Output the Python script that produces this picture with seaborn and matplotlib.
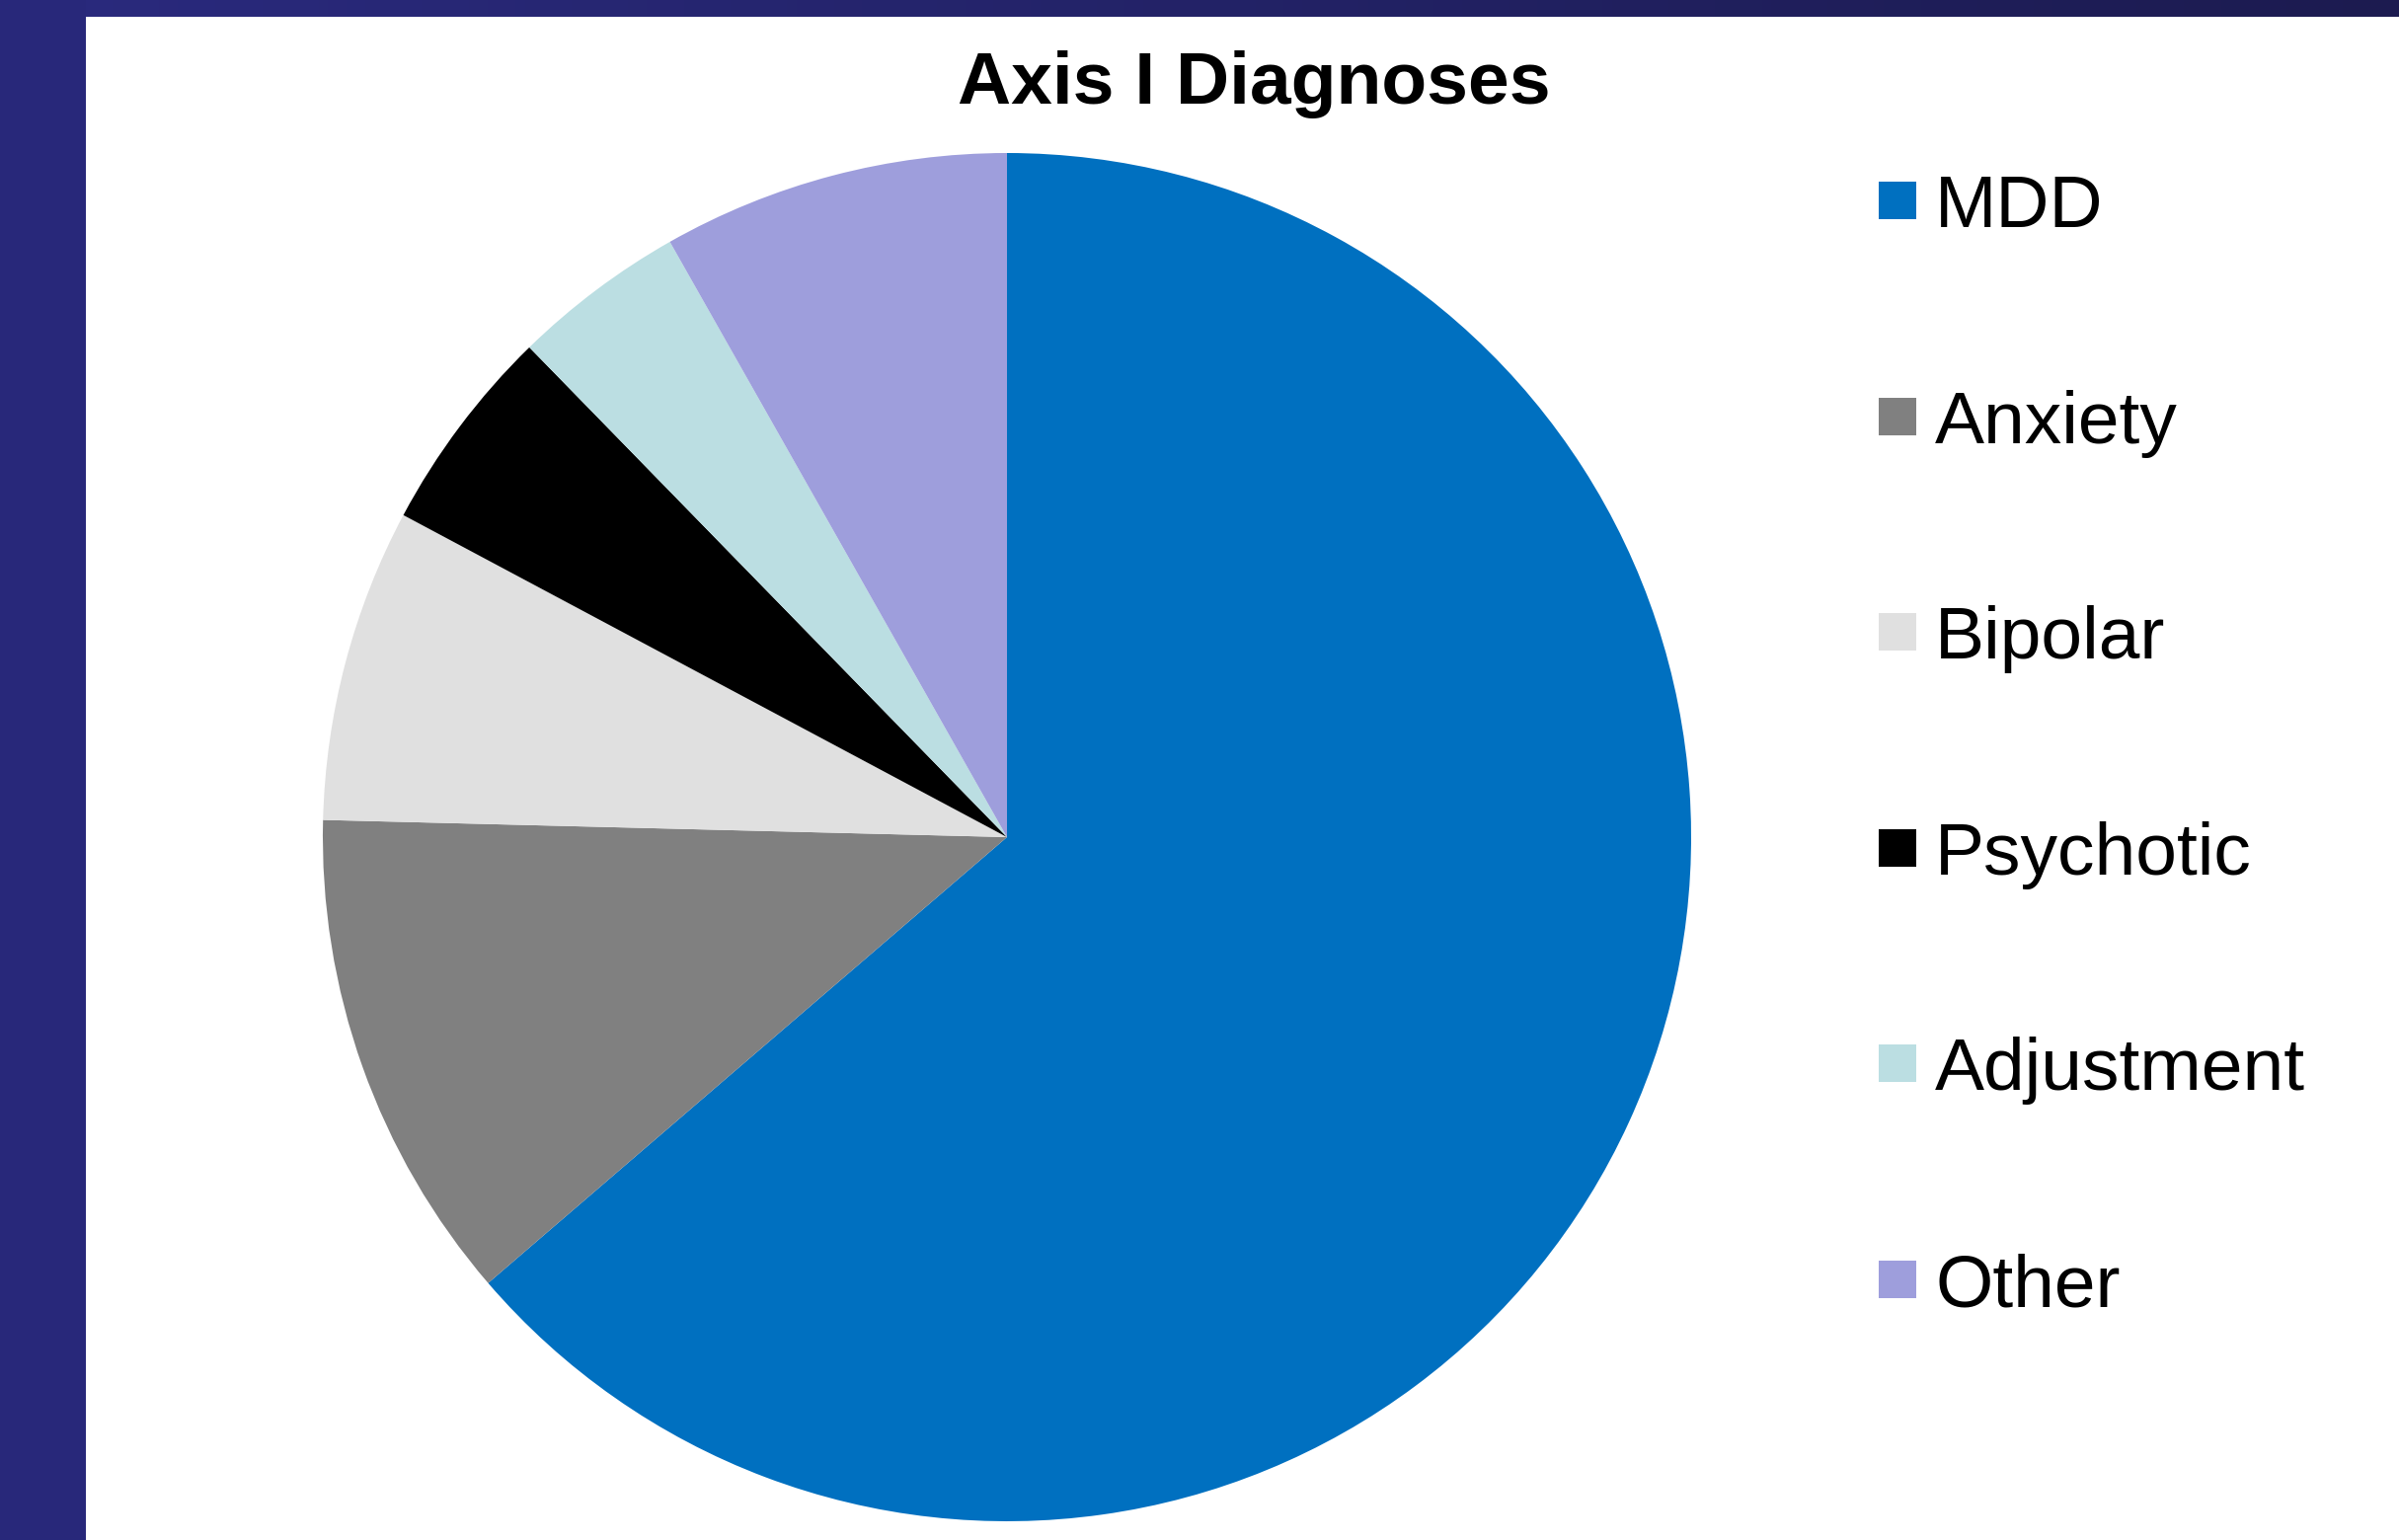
import numpy as np
import matplotlib
matplotlib.use("Agg")
import matplotlib.pyplot as plt
from matplotlib.patches import Rectangle
from matplotlib.colors import LinearSegmentedColormap
import seaborn as sns

categories = ["MDD", "Anxiety", "Bipolar", "Psychotic", "Adjustment", "Other"]
values = [63.7, 11.7, 7.4, 4.9, 4.1, 8.2]
colors = ["#0070C0", "#808080", "#E0E0E0", "#000000", "#BBDEE2", "#9E9EDC"]
title = "Axis I Diagnoses"

sns.set_theme(style="white")
plt.rcParams["font.family"] = ["Liberation Sans", "DejaVu Sans"]

W, H = 2430, 1560
fig = plt.figure(figsize=(W / 100, H / 100), dpi=100)
fig.patch.set_facecolor("white")

# background decorations: left band and top gradient band
bg = fig.add_axes([0, 0, 1, 1], zorder=-10)
bg.axis("off")
bg.add_patch(Rectangle((0, 0), 87, H, color="#28287A", lw=0))
grad = np.linspace(0, 1, 256)[None, :]
cm = LinearSegmentedColormap.from_list("band", ["#2A2A7E", "#1C1B50"])
bg.imshow(grad, cmap=cm, extent=[0, W, 17, 0], aspect="auto")
bg.set_xlim(0, W)
bg.set_ylim(H, 0)

# pie
cx, cy, r = 1020, 848, 693
ax = fig.add_axes([(cx - r) / W, (H - cy - r) / H, 2 * r / W, 2 * r / H])
ax.pie(values, colors=colors, startangle=90, counterclock=False,
       wedgeprops=dict(linewidth=0))
ax.set_xlim(-1, 1)
ax.set_ylim(-1, 1)
ax.set_aspect("equal")
ax.axis("off")

# title
fig.text(1270 / W, 1 - 105 / H, title, ha="center", va="baseline",
         fontsize=54, fontweight="bold", color="black")

# legend
rows = [203, 422, 640, 859, 1077, 1296]
for lab, col, yc in zip(categories, colors, rows):
    bg.add_patch(Rectangle((1903, yc - 19), 38, 38, color=col, lw=0))
    fig.text(1960 / W, 1 - (yc + 27) / H, lab, ha="left", va="baseline",
             fontsize=54, color="black")

fig.savefig("out.png", dpi=100)
